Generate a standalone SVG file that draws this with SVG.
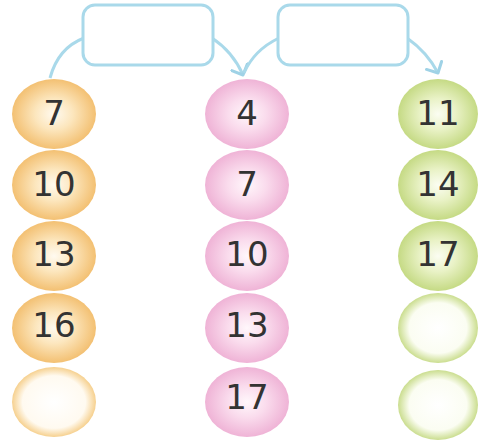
<svg xmlns="http://www.w3.org/2000/svg" width="478" height="443" viewBox="0 0 478 443">
<defs>
<radialGradient id="gO" cx="50%" cy="50%" r="50%"><stop offset="0" stop-color="#fffaf0"/><stop offset="0.45" stop-color="#fce6bd"/><stop offset="1" stop-color="#f3c072"/></radialGradient>
<radialGradient id="gOe" cx="50%" cy="50%" r="50%"><stop offset="0" stop-color="#ffffff"/><stop offset="0.75" stop-color="#fffaf0"/><stop offset="1" stop-color="#f6d08e"/></radialGradient>
<radialGradient id="gP" cx="50%" cy="50%" r="50%"><stop offset="0" stop-color="#fff7fb"/><stop offset="0.45" stop-color="#fadced"/><stop offset="1" stop-color="#efb3d6"/></radialGradient>
<radialGradient id="gG" cx="50%" cy="50%" r="50%"><stop offset="0" stop-color="#fbfdf2"/><stop offset="0.45" stop-color="#e9f2c6"/><stop offset="1" stop-color="#c5da84"/></radialGradient>
<radialGradient id="gGe" cx="50%" cy="50%" r="50%"><stop offset="0" stop-color="#ffffff"/><stop offset="0.72" stop-color="#fbfdf2"/><stop offset="1" stop-color="#cadd8e"/></radialGradient>
<marker id="arr" viewBox="0 0 12 20" refX="10" refY="10" markerWidth="12" markerHeight="20" orient="auto" markerUnits="userSpaceOnUse">
<path d="M1.5,1.5 L10,10 L1.5,18.5" fill="none" stroke="#9fd2e6" stroke-width="3" stroke-linecap="round" stroke-linejoin="round"/>
</marker>
</defs>
<style>
.box{fill:#ffffff;stroke:#a9d9ea;stroke-width:3}
.con{fill:none;stroke:#a9d9ea;stroke-width:3}
.o{fill:url(#gO)}
.oe{fill:url(#gOe)}
.p{fill:url(#gP)}
.g{fill:url(#gG)}
.ge{fill:url(#gGe)}
.t{font-family:"DejaVu Sans",sans-serif;font-size:34px;fill:#333333;text-anchor:middle;dominant-baseline:central}
</style>
<rect width="478" height="443" fill="#ffffff"/>
<g id="connectors">
<path class="con" d="M50,78 Q58,48 84,38"/>
<path class="con" d="M212,38 Q233,52 243,75" marker-end="url(#arr)"/>
<path class="con" d="M244,73 Q254,50 279,38"/>
<path class="con" d="M407,38 Q427,52 438,73" marker-end="url(#arr)"/>
</g>
<g id="box1"><rect class="box" x="83" y="5" width="130" height="60" rx="12"/></g>
<g id="box2"><rect class="box" x="278" y="5" width="130" height="60" rx="12"/></g>
<g id="col1">
<g id="a1"><ellipse class="o" cx="54" cy="114" rx="42" ry="35"/><text class="t" x="54" y="113">7</text></g>
<g id="a2"><ellipse class="o" cx="54" cy="185" rx="42" ry="35"/><text class="t" x="54" y="184">10</text></g>
<g id="a3"><ellipse class="o" cx="54" cy="256" rx="42" ry="35"/><text class="t" x="54" y="254">13</text></g>
<g id="a4"><ellipse class="o" cx="54" cy="328" rx="42" ry="35"/><text class="t" x="54" y="325">16</text></g>
<g id="a5"><ellipse class="oe" cx="54" cy="402" rx="42" ry="35"/></g>
</g>
<g id="col2">
<g id="b1"><ellipse class="p" cx="247" cy="114" rx="42" ry="35"/><text class="t" x="247" y="113">4</text></g>
<g id="b2"><ellipse class="p" cx="247" cy="185" rx="42" ry="35"/><text class="t" x="247" y="184">7</text></g>
<g id="b3"><ellipse class="p" cx="247" cy="256" rx="42" ry="35"/><text class="t" x="247" y="254">10</text></g>
<g id="b4"><ellipse class="p" cx="247" cy="328" rx="42" ry="35"/><text class="t" x="247" y="325">13</text></g>
<g id="b5"><ellipse class="p" cx="247" cy="402" rx="42" ry="35"/><text class="t" x="247" y="397">17</text></g>
</g>
<g id="col3">
<g id="c1"><ellipse class="g" cx="438" cy="114" rx="40" ry="35"/><text class="t" x="438" y="113">11</text></g>
<g id="c2"><ellipse class="g" cx="438" cy="185" rx="40" ry="35"/><text class="t" x="438" y="184">14</text></g>
<g id="c3"><ellipse class="g" cx="438" cy="256" rx="40" ry="35"/><text class="t" x="438" y="254">17</text></g>
<g id="c4"><ellipse class="ge" cx="438" cy="328" rx="40" ry="35"/></g>
<g id="c5"><ellipse class="ge" cx="438" cy="405" rx="40" ry="35"/></g>
</g>
</svg>
